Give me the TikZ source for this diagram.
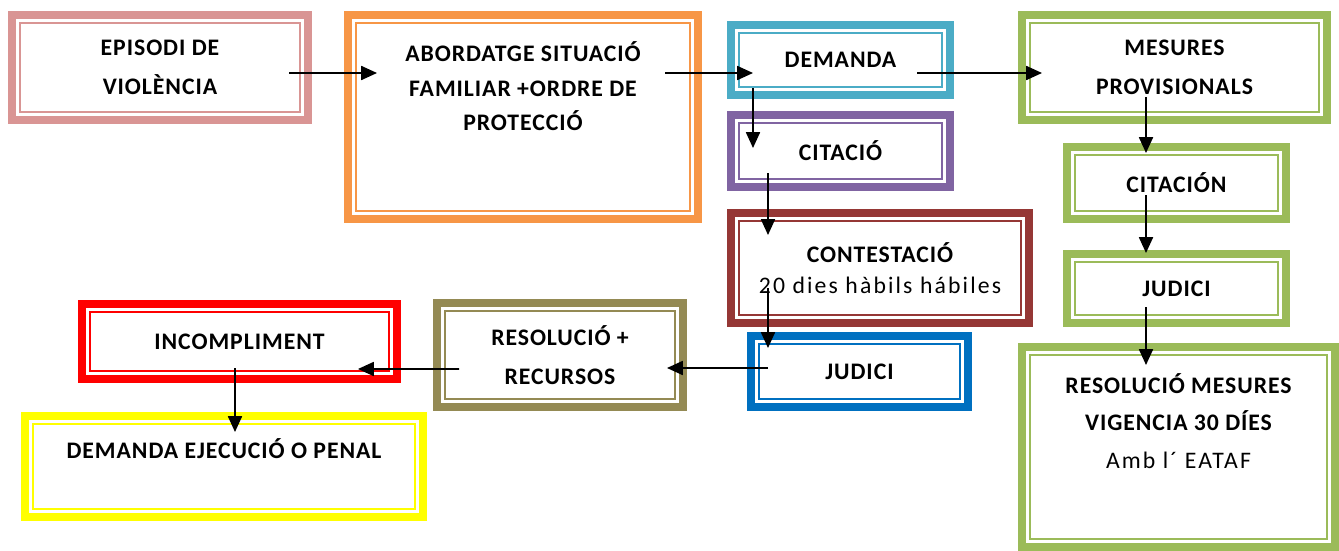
\documentclass[tikz,border=0pt]{standalone}
\usepackage{fontspec}
\setmainfont{Carlito}
\newfontfamily\boxfont{Carlito}[LetterSpace=4]
\newfontfamily\notefont{Carlito}[LetterSpace=9]
\usetikzlibrary{arrows.meta,calc}

\definecolor{boxpink}{HTML}{D99594}
\definecolor{boxorange}{HTML}{F79646}
\definecolor{boxcyan}{HTML}{4BACC6}
\definecolor{boxpurple}{HTML}{8064A2}
\definecolor{boxgreen}{HTML}{9BBB59}
\definecolor{boxbrown}{HTML}{953735}
\definecolor{boxblue}{HTML}{0070C0}
\definecolor{boxolive}{HTML}{948A54}
\definecolor{boxred}{HTML}{FF0000}
\definecolor{boxyellow}{HTML}{FFFF00}

\begin{document}
\begin{tikzpicture}[x=0.02cm, y=-0.02cm,
    box/.style n args={3}{draw=#1, line width=4.5pt, outer sep=0pt, inner sep=0pt,
        minimum width=#2*0.02cm, minimum height=#3*0.02cm, align=center,
        font=\boxfont\bfseries\fontsize{13.5}{22.5}\selectfont},
    arr/.style={line width=0.9pt, -{Triangle[length=9pt,width=8pt]}}]

    % Page
    \fill[white] (0,0) rectangle (1339,551);

    % Top row
    \node[box={boxpink}{296}{105}] (episodi) at (160,67.5) {EPISODI DE\\VIOLÈNCIA};
    \node[box={boxorange}{350}{204}, text depth=35pt,
        font=\boxfont\bfseries\fontsize{13.5}{19.5}\selectfont] (abord) at (523,117)
        {ABORDATGE SITUACIÓ\\FAMILIAR +ORDRE DE\\PROTECCIÓ};
    \node[box={boxcyan}{219}{70}] (demanda) at (840.5,60) {DEMANDA};
    \node[box={boxgreen}{305}{105}] (mesures) at (1174.5,67.5) {MESURES\\PROVISIONALS};

    % Middle column
    \node[box={boxpurple}{219}{72}] (citacio) at (840.5,151) {CITACIÓ};
    \node[box={boxbrown}{298}{110},
        font=\boxfont\bfseries\fontsize{13.5}{17.5}\selectfont] (contest) at (880,268)
        {CONTESTACIÓ\\{\notefont\mdseries 20 dies hàbils hábiles}};
    \node[box={boxblue}{217}{71}] (judicimid) at (859.5,371.5) {JUDICI};

    % Right column
    \node[box={boxgreen}{219}{72}] (citacion) at (1176.5,183) {CITACIÓN};
    \node[box={boxgreen}{219}{69}] (judicidr) at (1176.5,288.5) {JUDICI};
    \node[box={boxgreen}{313}{200}, text depth=30pt,
        font=\boxfont\bfseries\fontsize{13.5}{21.3}\selectfont] (resmes) at (1178.5,447)
        {RESOLUCIÓ MESURES\\VIGENCIA 30 DÍES\\{\notefont\mdseries Amb l´ EATAF}};

    % Bottom row
    \node[box={boxolive}{246}{104}] (resol) at (560,355) {RESOLUCIÓ +\\RECURSOS};
    \node[box={boxred}{315}{75}] (incompl) at (239.5,341.5) {INCOMPLIMENT};
    \node[box={boxyellow}{398}{101}, text depth=20pt] (ejecucio) at (224,466.5)
        {DEMANDA EJECUCIÓ O PENAL};

    % Inner thin frames
    \foreach \n/\c in {episodi/boxpink, abord/boxorange, demanda/boxcyan,
        mesures/boxgreen, citacio/boxpurple, contest/boxbrown, judicimid/boxblue,
        citacion/boxgreen, judicidr/boxgreen, resmes/boxgreen, resol/boxolive,
        incompl/boxred, ejecucio/boxyellow}
        \draw[\c, line width=0.85pt] ($(\n.north west)+(8,8)$) rectangle ($(\n.south east)+(-8,-8)$);

    % Arrows
    \draw[arr] ($(episodi)+(129,5.5)$) -- ($(abord)+(-146,-44)$);
    \draw[arr] ($(abord)+(142,-44)$) -- ($(demanda)+(-87.5,13)$);
    \draw[arr] ($(demanda)+(76.5,13)$) -- ($(mesures)+(-132.5,5.5)$);
    \draw[arr] ($(demanda)+(-87.5,28)$) -- ($(citacio)+(-87.5,-3)$);
    \draw[arr] ($(citacio)+(-72.5,22)$) -- ($(contest)+(-112,-33)$);
    \draw[arr] ($(contest)+(-112,20)$) -- ($(judicimid)+(-91.5,-23.5)$);
    \draw[arr] ($(judicimid)+(-91.5,-3.5)$) -- ($(resol)+(107,13)$);
    \draw[arr] ($(resol)+(-101,14)$) -- ($(incompl)+(118.5,27.5)$);
    \draw[arr] ($(incompl)+(-4.5,26.5)$) -- ($(ejecucio)+(11,-34.5)$);
    \draw[arr] ($(mesures)+(-28.5,29.5)$) -- ($(citacion)+(-30.5,-30)$);
    \draw[arr] ($(citacion)+(-30.5,12)$) -- ($(judicidr)+(-30.5,-35.5)$);
    \draw[arr] ($(judicidr)+(-30.5,18.5)$) -- ($(resmes)+(-32.5,-82)$);
\end{tikzpicture}
\end{document}
